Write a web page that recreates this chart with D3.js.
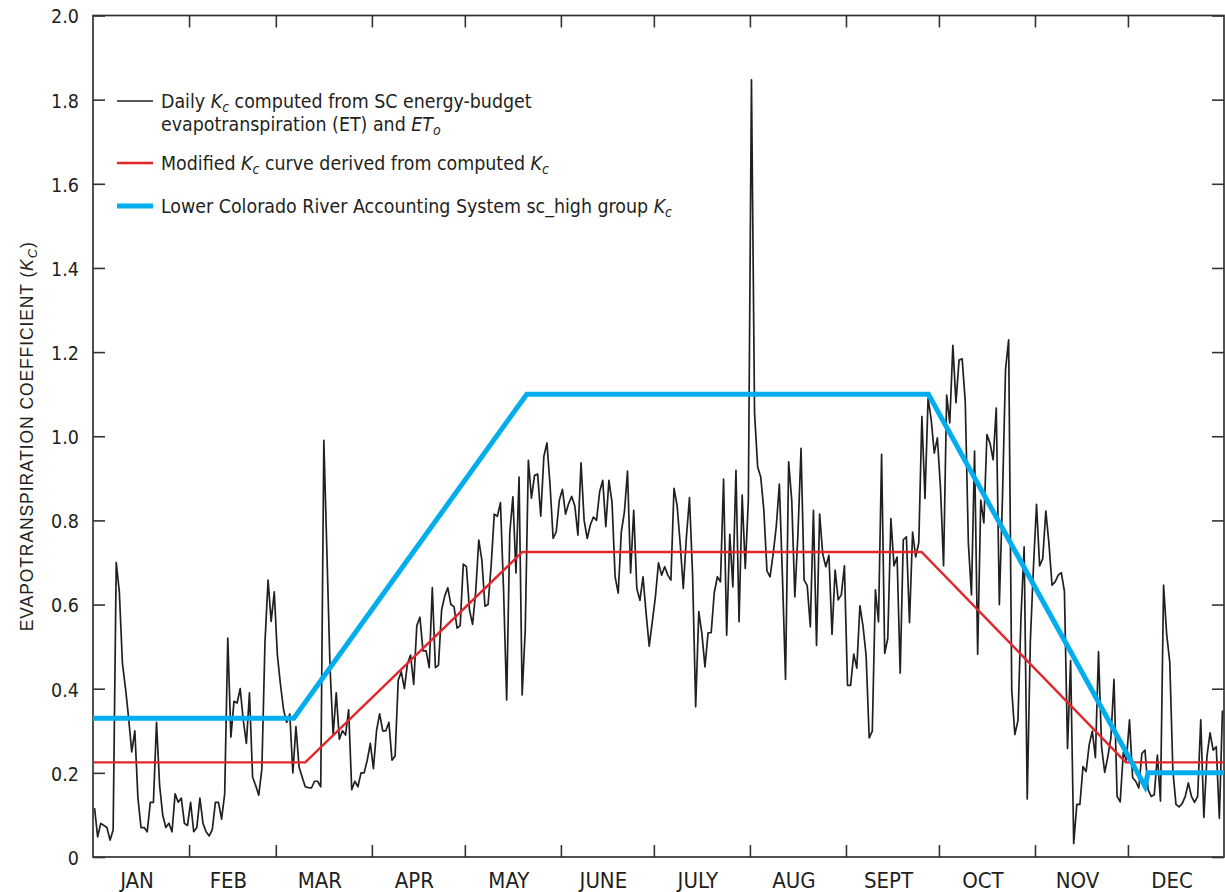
<!DOCTYPE html>
<html><head><meta charset="utf-8">
<script src="https://cdn.jsdelivr.net/npm/d3@7"></script>
<style>
body{margin:0;background:#fff;}
text{font-family:"DejaVu Sans Condensed","DejaVu Sans",sans-serif;font-stretch:condensed;fill:#231f20;}
</style>
</head><body><svg id="chart" width="1225" height="892"></svg>
<script>
const monthLabels = ["JAN","FEB","MAR","APR","MAY","JUNE","JULY","AUG","SEPT","OCT","NOV","DEC"];
const monthStartDays = [0,31,59,90,120,151,181,212,243,273,304,334,365];
const yTickValues = [0,0.2,0.4,0.6,0.8,1.0,1.2,1.4,1.6,1.8,2.0];
const yTickLabels = ["0","0.2","0.4","0.6","0.8","1.0","1.2","1.4","1.6","1.8","2.0"];
const kcDaily = [
0.116,0.048,0.08,0.075,0.07,0.04,0.064,0.70,0.63,0.46,
0.40,0.33,0.25,0.30,0.14,0.07,0.07,0.06,0.13,0.13,
0.32,0.17,0.10,0.07,0.08,0.06,0.15,0.13,0.14,0.08,
0.075,0.13,0.06,0.07,0.14,0.08,0.06,0.05,0.065,0.13,
0.13,0.09,0.15,0.52,0.285,0.37,0.366,0.40,0.325,0.27,
0.39,0.19,0.17,0.147,0.21,0.51,0.658,0.56,0.63,0.48,
0.41,0.35,0.32,0.34,0.20,0.31,0.214,0.19,0.167,0.165,
0.164,0.18,0.18,0.167,0.99,0.72,0.45,0.29,0.39,0.28,
0.30,0.29,0.35,0.16,0.18,0.167,0.20,0.20,0.23,0.27,
0.21,0.30,0.34,0.30,0.30,0.32,0.23,0.24,0.42,0.44,
0.40,0.46,0.48,0.41,0.55,0.57,0.49,0.49,0.45,0.64,
0.45,0.456,0.587,0.62,0.64,0.60,0.595,0.544,0.55,0.696,
0.69,0.587,0.553,0.63,0.753,0.705,0.596,0.60,0.693,0.815,
0.81,0.842,0.634,0.373,0.77,0.856,0.675,0.903,0.385,0.54,
0.943,0.853,0.907,0.91,0.81,0.952,0.984,0.884,0.757,0.773,
0.848,0.874,0.815,0.84,0.857,0.834,0.765,0.937,0.80,0.757,
0.789,0.808,0.80,0.868,0.895,0.785,0.895,0.843,0.666,0.627,
0.773,0.82,0.917,0.675,0.824,0.638,0.61,0.666,0.579,0.501,
0.559,0.618,0.699,0.67,0.69,0.67,0.658,0.876,0.836,0.745,
0.638,0.76,0.854,0.67,0.357,0.583,0.531,0.452,0.533,0.533,
0.628,0.666,0.654,0.898,0.527,0.767,0.642,0.919,0.559,0.86,
0.686,0.848,1.847,1.055,0.927,0.903,0.824,0.68,0.666,0.72,
0.785,0.886,0.666,0.422,0.939,0.848,0.618,0.767,0.971,0.658,
0.645,0.547,0.824,0.503,0.815,0.720,0.690,0.717,0.529,0.682,
0.611,0.623,0.692,0.408,0.408,0.482,0.449,0.597,0.549,0.479,
0.283,0.299,0.635,0.559,0.957,0.484,0.520,0.804,0.692,0.713,
0.437,0.754,0.761,0.557,0.772,0.713,0.747,1.047,0.852,1.090,
1.040,0.960,0.996,0.878,0.692,1.098,1.032,1.216,1.080,1.181,
1.184,1.082,0.746,0.623,0.965,0.482,0.848,0.794,1.004,0.983,
0.944,1.067,0.600,0.852,1.159,1.229,0.397,0.291,0.324,0.573,
0.737,0.138,0.512,0.688,0.838,0.692,0.709,0.822,0.746,0.646,
0.654,0.670,0.676,0.631,0.258,0.467,0.032,0.125,0.125,0.215,
0.203,0.267,0.299,0.236,0.488,0.261,0.201,0.238,0.283,0.422,
0.144,0.131,0.248,0.230,0.326,0.189,0.180,0.164,0.246,0.254,
0.160,0.144,0.148,0.242,0.133,0.646,0.529,0.463,0.205,0.125,
0.119,0.127,0.144,0.176,0.144,0.130,0.144,0.326,0.094,0.239,
0.295,0.254,0.262,0.092,0.348
];
const modifiedKcDays = [0,68.5,138.6,267.4,333.3,365];
const modifiedKc = [0.225,0.225,0.725,0.725,0.225,0.225];
const lcrasDays = [0,64.8,140,269.6,339.5,340.5,365];
const lcrasKc = [0.33,0.33,1.1,1.1,0.168,0.2,0.2];

const svg = d3.select("#chart");
const x = d3.scaleLinear().domain([0,365]).range([93,1224]);
const y = d3.scaleLinear().domain([0,2]).range([857,15.5]);
const axisColor = "#333";
const ink = "#231f20";

// Axes (ticks inward on all four sides)
const innerMonthTicks = monthStartDays.slice(1,12);
function styleAxis(g){
  g.select(".domain").remove();
  g.selectAll(".tick line").attr("stroke",axisColor).attr("stroke-width",1.6);
}
svg.append("g").attr("transform",`translate(0,${y(0)})`)
  .call(d3.axisBottom(x).tickValues(innerMonthTicks).tickSize(-12).tickFormat(""))
  .call(styleAxis);
svg.append("g").attr("transform",`translate(0,${y(2)})`)
  .call(d3.axisTop(x).tickValues(innerMonthTicks).tickSize(-12).tickFormat(""))
  .call(styleAxis);
svg.append("g").attr("transform",`translate(${x(0)},0)`)
  .call(d3.axisLeft(y).tickValues(yTickValues).tickSize(-12).tickPadding(14)
    .tickFormat((d,i)=>yTickLabels[i]))
  .call(styleAxis)
  .call(g=>g.selectAll(".tick text").attr("font-size",19.5).attr("font-family",null)
    .attr("fill",ink).attr("dy","0.38em"));
svg.append("g").attr("transform",`translate(${x(365)},0)`)
  .call(d3.axisRight(y).tickValues(yTickValues).tickSize(-12).tickFormat(""))
  .call(styleAxis);

// frame
svg.append("rect").attr("x",x(0)).attr("y",y(2)).attr("width",x(365)-x(0)).attr("height",y(0)-y(2))
  .attr("fill","none").attr("stroke",axisColor).attr("stroke-width",1.7);

// month labels
svg.append("g").selectAll("text").data(monthLabels).join("text")
  .attr("x",(d,i)=>x((monthStartDays[i]+monthStartDays[i+1])/2)-4)
  .attr("y",888).attr("text-anchor","middle").attr("font-size",22).text(d=>d);

// series
const line = d3.line().x(d=>x(d[0])).y(d=>y(d[1]));
svg.append("path").datum(kcDaily.map((v,i)=>[i+0.5,v]))
  .attr("d",line).attr("fill","none").attr("stroke",ink).attr("stroke-width",1.7).attr("stroke-linejoin","round");
svg.append("path").datum(modifiedKcDays.map((d,i)=>[d,modifiedKc[i]]))
  .attr("d",line).attr("fill","none").attr("stroke","#e2262b").attr("stroke-width",2.4);
svg.append("path").datum(lcrasDays.map((d,i)=>[d,lcrasKc[i]]))
  .attr("d",line).attr("fill","none").attr("stroke","#00aeef").attr("stroke-width",5);

// legend
const lg = svg.append("g");
const legendRows = [
  {y:101, color:ink, w:1.6},
  {y:163, color:"#e2262b", w:2.4},
  {y:206, color:"#00aeef", w:5}
];
lg.selectAll("line").data(legendRows).join("line")
  .attr("x1",117).attr("x2",153).attr("y1",d=>d.y).attr("y2",d=>d.y)
  .attr("stroke",d=>d.color).attr("stroke-width",d=>d.w);

const LFS = 19.4;
function addKc(t, sub){
  t.append("tspan").attr("font-style","italic").text("K");
  t.append("tspan").attr("font-style","italic").attr("font-size",14).attr("dy",4).text(sub);
}
let t1 = lg.append("text").attr("x",161).attr("y",108).attr("font-size",LFS);
t1.append("tspan").text("Daily ");
addKc(t1,"c");
t1.append("tspan").attr("dy",-4).text(" computed from SC energy-budget");
let t2 = lg.append("text").attr("x",161).attr("y",131).attr("font-size",LFS);
t2.append("tspan").text("evapotranspiration (ET) and ");
t2.append("tspan").attr("font-style","italic").text("ET");
t2.append("tspan").attr("font-style","italic").attr("font-size",14).attr("dy",4).text("o");
let t3 = lg.append("text").attr("x",161).attr("y",170).attr("font-size",LFS);
t3.append("tspan").text("Modified ");
addKc(t3,"c");
t3.append("tspan").attr("dy",-4).text(" curve derived from computed ");
addKc(t3,"c");
let t4 = lg.append("text").attr("x",161).attr("y",213).attr("font-size",LFS);
t4.append("tspan").text("Lower Colorado River Accounting System sc_high group ");
addKc(t4,"c");

// y axis title
const yt = svg.append("text").attr("transform",`translate(33,${(y(0)+y(2))/2}) rotate(-90)`)
  .attr("text-anchor","middle").attr("font-size",17.5).attr("letter-spacing",0.9)
  .style("font-family","'Liberation Sans',Arial,sans-serif").style("font-stretch","normal");
yt.append("tspan").text("EVAPOTRANSPIRATION COEFFICIENT (");
yt.append("tspan").attr("font-style","italic").text("K");
yt.append("tspan").attr("font-style","italic").attr("font-size",13).attr("dy",4).text("C");
yt.append("tspan").attr("dy",-4).text(")");
</script></body></html>
